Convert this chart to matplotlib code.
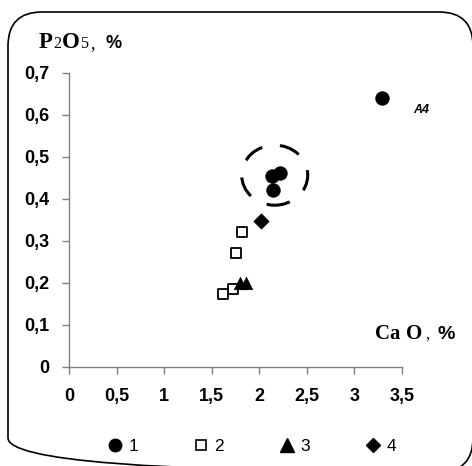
import matplotlib
matplotlib.use("Agg")
import matplotlib.pyplot as plt
from matplotlib.patches import FancyBboxPatch, Ellipse
from matplotlib.lines import Line2D
from matplotlib.ticker import FuncFormatter

# CaO (x) and P2O5 (y), %, per group
cao_1 = [3.29, 2.22, 2.13, 2.14]
p2o5_1 = [0.64, 0.461, 0.453, 0.42]
cao_2 = [1.815, 1.75, 1.72, 1.62]
p2o5_2 = [0.321, 0.271, 0.184, 0.173]
cao_3 = [1.80, 1.86]
p2o5_3 = [0.20, 0.20]
cao_4 = [2.02]
p2o5_4 = [0.348]

xticks = [0, 0.5, 1, 1.5, 2, 2.5, 3, 3.5]
yticks = [0, 0.1, 0.2, 0.3, 0.4, 0.5, 0.6, 0.7]
group_labels = ["1", "2", "3", "4"]

W, H = 472, 466
fig = plt.figure(figsize=(W / 100, H / 100), dpi=100)

# background layer in pixel units: rounded frame and axis titles
bg = fig.add_axes([0, 0, 1, 1], zorder=0)
bg.set_xlim(0, W)
bg.set_ylim(H, 0)
bg.axis("off")
bg.add_patch(FancyBboxPatch((8, 12), 465, 460,
                            boxstyle="round,pad=0,rounding_size=34",
                            fill=False, ec="black", lw=1.2, clip_on=False))

serif_b = dict(family="Liberation Serif", weight="bold")
serif_n = dict(family="Liberation Serif", weight="normal")
sans_b = dict(family="Liberation Sans", weight="bold")


def put(parts, y):
    for x, s, kw in parts:
        bg.text(x, y, s, va="baseline", ha="left", **kw)


put([(39, "P", dict(size=16.5, **serif_b)),
     (53.5, "2", dict(size=11.5, **serif_n)),
     (61.5, "O", dict(size=16.5, **serif_b)),
     (80, "5", dict(size=11.5, **serif_n)),
     (90, ",", dict(size=13, **serif_n)),
     (106, "%", dict(size=13, **sans_b))], 48)

put([(375, "Ca", dict(size=15, **serif_b)),
     (406, "O", dict(size=15, **serif_b)),
     (425.5, ",", dict(size=12, **serif_n)),
     (438, "%", dict(size=14, **sans_b))], 339)

ax = fig.add_axes([69 / W, 1 - 366.7 / H, (402 - 69) / W, (366.7 - 72.7) / H], zorder=1)
ax.patch.set_alpha(0)
ax.set_xlim(0, 3.5)
ax.set_ylim(0, 0.7)
for side in ["top", "right"]:
    ax.spines[side].set_visible(False)
for side in ["left", "bottom"]:
    ax.spines[side].set_color("#808080")
    ax.spines[side].set_linewidth(1.0)

ax.set_xticks(xticks)
ax.set_yticks(yticks)
fmt = FuncFormatter(lambda v, p: ("%g" % v).replace(".", ","))
ax.xaxis.set_major_formatter(fmt)
ax.yaxis.set_major_formatter(fmt)
ax.tick_params(axis="both", direction="out", length=5, width=1, color="#808080",
               labelsize=13)
ax.tick_params(axis="x", pad=10)
ax.tick_params(axis="y", pad=9)
for lab in ax.get_xticklabels() + ax.get_yticklabels():
    lab.set_fontfamily("Liberation Sans")
    lab.set_fontweight("bold")

ax.scatter(cao_2, p2o5_2, marker="s", s=50, facecolor="white", edgecolor="black",
           linewidth=1.3, clip_on=False, zorder=3)
ax.scatter(cao_3, p2o5_3, marker="^", s=80, color="black", linewidth=0.5,
           clip_on=False, zorder=4)
ax.scatter(cao_4, p2o5_4, marker="D", s=60, color="black", linewidth=0.5,
           clip_on=False, zorder=4)
ax.scatter(cao_1, p2o5_1, marker="o", s=100, color="black", linewidth=0.3,
           clip_on=False, zorder=5)

ax.add_patch(Ellipse((2.162, 0.456), 0.694, 0.143, fill=False, ec="black", lw=2.2,
                     ls=(1.8, (6.9, 5.9)), zorder=5))

ax.text(3.62, 0.604, "A4", fontsize=9, style="italic", weight="bold",
        family="Liberation Sans", va="baseline", clip_on=False)

handles = [
    Line2D([], [], ls="none", marker="o", ms=9, color="black"),
    Line2D([], [], ls="none", marker="s", ms=7, mfc="white", mec="black", mew=1.2),
    Line2D([], [], ls="none", marker="^", ms=10, color="black"),
    Line2D([], [], ls="none", marker="D", ms=7, color="black"),
]
fig.legend(handles, group_labels, loc="center", bbox_to_anchor=(251 / W, 1 - 446 / H),
           ncol=4, frameon=False, handlelength=1.0, handletextpad=0.3,
           columnspacing=3.1, prop=dict(family="Liberation Sans", size=12.5))

fig.savefig("out.png", dpi=100)
